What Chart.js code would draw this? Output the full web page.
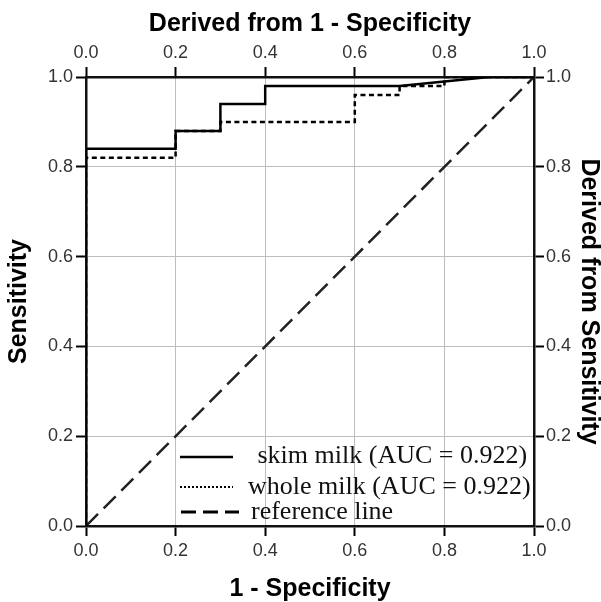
<!DOCTYPE html>
<html>
<head>
<meta charset="utf-8">
<script src="https://cdn.jsdelivr.net/npm/chart.js@4/dist/chart.umd.min.js"></script>
<style>
html,body{margin:0;padding:0;background:#fff;}
#wrap{width:601px;height:602px;}
</style>
</head>
<body>
<div id="wrap"><canvas id="c" width="601" height="602"></canvas></div>
<script>
// ---- data ----
const skimFpr   = [0, 0,    0.2,  0.2,  0.3,  0.3,  0.4,  0.4,  0.7,  0.9, 1.0];
const skimTpr   = [0, 0.84, 0.84, 0.88, 0.88, 0.94, 0.94, 0.98, 0.98, 1.0, 1.0];
const wholeFpr  = [0, 0,    0.2,  0.2,  0.3,  0.3,  0.6,  0.6,  0.7,  0.7,  0.8,  0.8, 1.0];
const wholeTpr  = [0, 0.82, 0.82, 0.88, 0.88, 0.90, 0.90, 0.96, 0.96, 0.98, 0.98, 1.0, 1.0];
const refX      = [0, 1];
const refY      = [0, 1];
const tickValues = [0, 0.2, 0.4, 0.6, 0.8, 1.0];
const tickLabels = ['0.0', '0.2', '0.4', '0.6', '0.8', '1.0'];
const legendLabels = [' skim milk (AUC = 0.922)', 'whole milk (AUC = 0.922)', 'reference line'];

const toPts = (xs, ys) => xs.map((x, i) => ({x: x, y: ys[i]}));

const tickFont = {family: "'Liberation Sans', Arial, sans-serif", size: 18};
const titleFont = {family: "'Liberation Sans', Arial, sans-serif", size: 25, weight: 'bold', lineHeight: 1};

function axis(pos, id, title, titlePad, onArea, fitSize, pad) {
  return {
    type: 'linear',
    position: pos,
    min: 0, max: 1,
    afterBuildTicks: s => { s.ticks = tickValues.map(v => ({value: v})); },
    ticks: {
      color: '#333',
      font: tickFont,
      padding: pad,
      autoSkip: false,
      maxRotation: 0,
      callback: (v) => { const i = tickValues.findIndex(t => Math.abs(t - v) < 1e-9); return i >= 0 ? tickLabels[i] : ''; }
    },
    grid: {
      display: true,
      drawOnChartArea: onArea,
      color: '#bdbdbd',
      lineWidth: 1,
      tickColor: '#000',
      tickWidth: 2,
      tickLength: 10
    },
    border: {display: true, color: '#111', width: 2.5},
    title: {display: true, text: title, color: '#000', font: titleFont, padding: titlePad},
    afterFit: s => { if (s.isHorizontal()) s.height = fitSize; else s.width = fitSize; }
  };
}

const legendPlugin = {
  id: 'rocLegend',
  afterDraw(chart) {
    const ctx = chart.ctx;
    ctx.save();
    ctx.strokeStyle = '#000';
    // skim solid
    ctx.lineWidth = 2.5; ctx.setLineDash([]);
    ctx.beginPath(); ctx.moveTo(180, 457); ctx.lineTo(233, 457); ctx.stroke();
    // whole dotted
    ctx.lineWidth = 2; ctx.setLineDash([2, 2]);
    ctx.beginPath(); ctx.moveTo(180, 487); ctx.lineTo(233, 487); ctx.stroke();
    // reference dashed
    ctx.lineWidth = 3; ctx.setLineDash([15, 7]);
    ctx.beginPath(); ctx.moveTo(181, 512); ctx.lineTo(239, 512); ctx.stroke();
    ctx.setLineDash([]);
    ctx.fillStyle = '#111';
    ctx.font = "26px 'Liberation Serif', 'Times New Roman', serif";
    ctx.textBaseline = 'alphabetic';
    ctx.textAlign = 'left';
    ctx.fillText(legendLabels[0], 251, 463);
    ctx.fillText(legendLabels[1], 248, 494);
    ctx.fillText(legendLabels[2], 251, 519);
    ctx.restore();
  }
};

new Chart(document.getElementById('c'), {
  type: 'line',
  data: {
    datasets: [
      {label: legendLabels[0], data: toPts(skimFpr, skimTpr), borderColor: '#000', borderWidth: 2.5, pointRadius: 0, tension: 0, fill: false, xAxisID: 'x', yAxisID: 'y'},
      {label: legendLabels[1], data: toPts(wholeFpr, wholeTpr), borderColor: '#000', borderWidth: 2.5, borderDash: [5, 3.5], pointRadius: 0, tension: 0, fill: false, xAxisID: 'x', yAxisID: 'y'},
      {label: legendLabels[2], data: toPts(refX, refY), borderColor: '#222', borderWidth: 2.5, borderDash: [17, 8], pointRadius: 0, tension: 0, fill: false, xAxisID: 'x', yAxisID: 'y'}
    ]
  },
  options: {
    responsive: false,
    animation: false,
    devicePixelRatio: 1,
    layout: {padding: 0},
    plugins: {legend: {display: false}, tooltip: {enabled: false}},
    scales: {
      x:  axis('bottom', 'x', '1 - Specificity', {top: 0, bottom: 0}, true, 76, 4),
      x2: axis('top', 'x2', 'Derived from 1 - Specificity', {top: 12, bottom: 0}, false, 77, 3),
      y:  axis('left', 'y', 'Sensitivity', {top: 7, bottom: 0}, true, 86, 3),
      y2: axis('right', 'y2', 'Derived from Sensitivity', {top: 0, bottom: 0}, false, 67, 2)
    }
  },
  plugins: [legendPlugin]
});
</script>
</body>
</html>
